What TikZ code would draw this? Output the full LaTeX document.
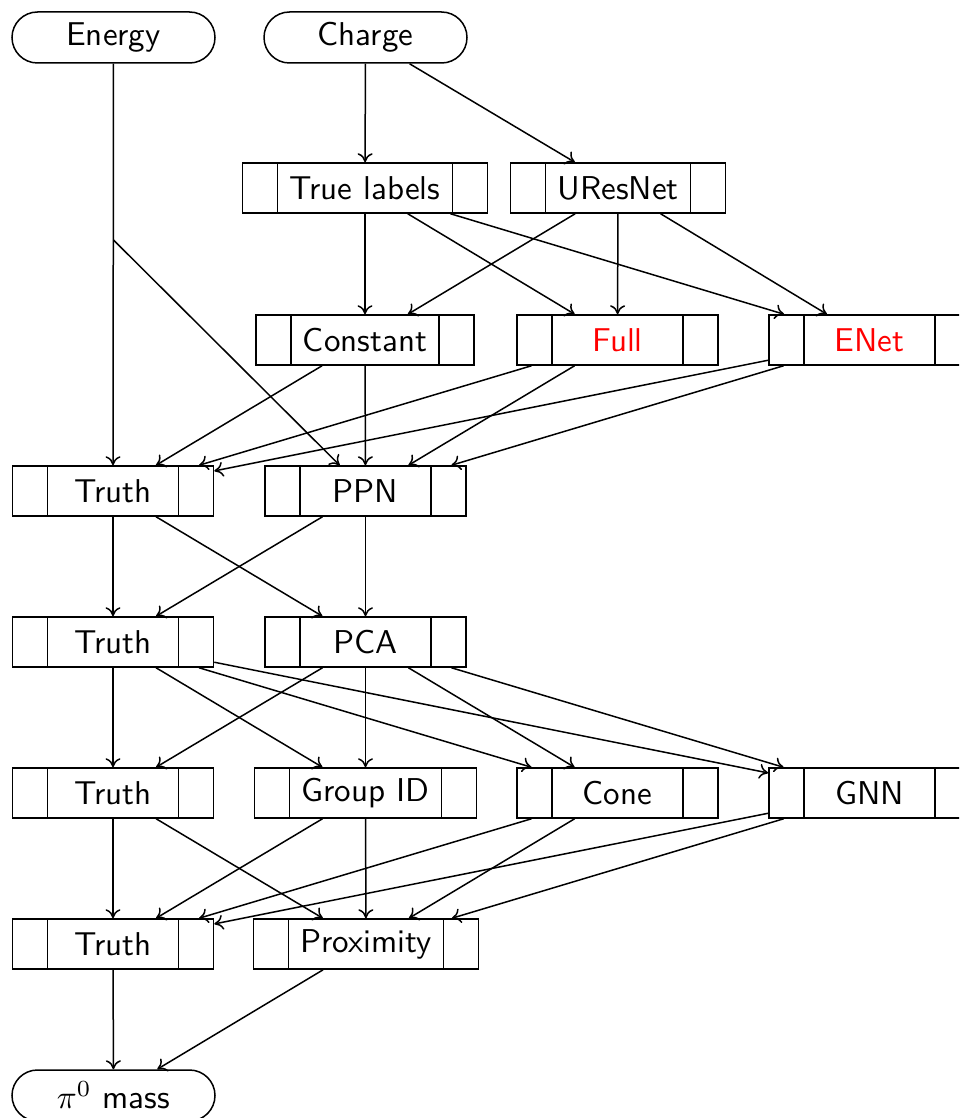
\documentclass[tikz,border=0pt]{standalone}
\usepackage{graphicx}
\usetikzlibrary{shapes.misc,arrows.meta}
% labels are set at 10pt and enlarged, so the 10pt design of the sans face is kept
\newcommand\lbl[1]{\scalebox{3.3}{#1}}
\begin{document}
\begin{tikzpicture}[x=1pt,y=-1pt,
  every node/.style={font=\fontsize{10}{12}\selectfont\sffamily},
  line width=1.5pt,
  flow/.style={-{To[length=9pt,width=15pt]}},
  term/.style={draw, rounded rectangle, minimum width=203pt, minimum height=51pt, inner sep=0pt},
  proc/.style={draw, rectangle, minimum width=201pt, minimum height=50pt,
    inner xsep=47pt, inner ysep=0pt,
    path picture={
      \draw ([xshift=35pt]path picture bounding box.north west) -- ([xshift=35pt]path picture bounding box.south west);
      \draw ([xshift=-35pt]path picture bounding box.north east) -- ([xshift=-35pt]path picture bounding box.south east);
    }},
  hot/.style={text=red}
]
\useasboundingbox (0,0) rectangle (959,1118);
\clip (0,0) rectangle (959,1118);

% inputs
\node[term] (energy) at (113.5,37.5) {\lbl{Energy}};
\node[term] (charge) at (365.5,37.5) {\lbl{Charge}};

% labelling
\node[proc] (labels) at (365,188) {\lbl{True labels}};
\node[proc] (uresnet) at (618,188) {\lbl{UResNet}};

% segmentation
\node[proc] (constant) at (365,340) {\lbl{Constant}};
\node[proc, hot] (full) at (617.5,340) {\lbl{Full}};
\node[proc, hot] (enet) at (869.5,340) {\lbl{ENet}};

% points
\node[proc] (truthA) at (113,491) {\lbl{Truth}};
\node[proc] (ppn) at (365.5,491) {\lbl{PPN}};

% directions
\node[proc] (truthB) at (113,642) {\lbl{Truth}};
\node[proc] (pca) at (365.5,642) {\lbl{PCA}};

% clustering
\node[proc] (truthC) at (113,793) {\lbl{Truth}};
\node[proc] (groupid) at (365.5,793) {\lbl{Group ID}};
\node[proc] (cone) at (617.5,793) {\lbl{Cone}};
\node[proc] (gnn) at (869.5,793) {\lbl{GNN}};

% matching
\node[proc] (truthD) at (113,944) {\lbl{Truth}};
\node[proc] (proximity) at (366,944) {\lbl{Proximity}};

% output
\node[term] (mass) at (113.5,1095.5) {\lbl{$\pi^0$ mass}};

\coordinate (ebranch) at (113.5,240);

\draw[flow] (energy) -- (truthA);
\draw[flow] (ebranch) -- (ppn);

\draw[flow] (charge) -- (labels);
\draw[flow] (charge) -- (uresnet);

\draw[flow] (labels) -- (constant);
\draw[flow] (labels) -- (full);
\draw[flow] (labels) -- (enet);
\draw[flow] (uresnet) -- (constant);
\draw[flow] (uresnet) -- (full);
\draw[flow] (uresnet) -- (enet);

\foreach \s in {constant, full, enet} {
  \draw[flow] (\s) -- (truthA);
  \draw[flow] (\s) -- (ppn);
}

\foreach \s in {truthA, ppn} {
  \draw[flow] (\s) -- (truthB);
  \draw[flow] (\s) -- (pca);
}

\foreach \s in {truthB, pca} {
  \draw[flow] (\s) -- (truthC);
  \draw[flow] (\s) -- (groupid);
  \draw[flow] (\s) -- (cone);
  \draw[flow] (\s) -- (gnn);
}

\foreach \s in {truthC, groupid, cone, gnn} {
  \draw[flow] (\s) -- (truthD);
  \draw[flow] (\s) -- (proximity);
}

\draw[flow] (truthD) -- (mass);
\draw[flow] (proximity) -- (mass);
\end{tikzpicture}
\end{document}
